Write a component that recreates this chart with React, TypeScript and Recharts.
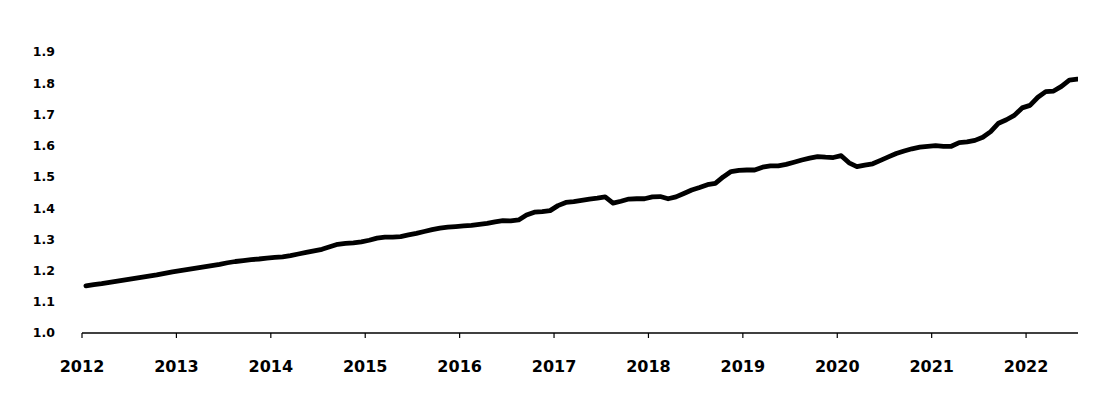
import { LineChart, Line, XAxis, YAxis } from 'recharts'

// monthly values (Jan 2012 .. Jul 2022)
const v2012 = [1.151, 1.155, 1.158, 1.162, 1.166, 1.17, 1.174, 1.178, 1.182, 1.186, 1.191, 1.196]
const v2013 = [1.2, 1.204, 1.208, 1.212, 1.216, 1.22, 1.225, 1.229, 1.232, 1.235, 1.237, 1.24]
const v2014 = [1.242, 1.244, 1.248, 1.253, 1.258, 1.263, 1.268, 1.276, 1.284, 1.287, 1.289, 1.292]
const v2015 = [1.297, 1.304, 1.307, 1.307, 1.309, 1.314, 1.319, 1.325, 1.331, 1.336, 1.339, 1.341]
const v2016 = [1.343, 1.345, 1.348, 1.351, 1.356, 1.36, 1.359, 1.362, 1.378, 1.387, 1.389, 1.392]
const v2017 = [1.408, 1.418, 1.421, 1.425, 1.429, 1.432, 1.436, 1.416, 1.422, 1.429, 1.43, 1.43]
const v2018 = [1.436, 1.437, 1.43, 1.436, 1.447, 1.458, 1.466, 1.475, 1.479, 1.5, 1.517, 1.521]
const v2019 = [1.522, 1.522, 1.531, 1.535, 1.535, 1.54, 1.547, 1.554, 1.56, 1.565, 1.563, 1.562]
const v2020 = [1.568, 1.545, 1.533, 1.538, 1.542, 1.553, 1.564, 1.575, 1.583, 1.59, 1.595, 1.598]
const v2021 = [1.6, 1.598, 1.598, 1.61, 1.612, 1.617, 1.627, 1.645, 1.672, 1.683, 1.697, 1.721]
const v2022 = [1.729, 1.755, 1.773, 1.775, 1.79, 1.81, 1.813]

const years = [2012, 2013, 2014, 2015, 2016, 2017, 2018, 2019, 2020, 2021, 2022]
const yTicks = [1.0, 1.1, 1.2, 1.3, 1.4, 1.5, 1.6, 1.7, 1.8, 1.9]

const byYear = [v2012, v2013, v2014, v2015, v2016, v2017, v2018, v2019, v2020, v2021, v2022]

// one point per month, placed mid-month
const data = byYear.flatMap((vals, yi) =>
  vals.map((v, m) => ({ t: years[yi] + (m + 0.5) / 12, value: v }))
)

const font = '"DejaVu Sans", Verdana, sans-serif'

export default function App() {
  return (
    <LineChart
      width={1090}
      height={395}
      data={data}
      margin={{ top: 44, right: 20, bottom: 30, left: 14 }}
    >
      <XAxis
        dataKey="t"
        type="number"
        domain={[2012, 2022.55]}
        ticks={years}
        allowDataOverflow
        tickSize={5}
        tickMargin={23}
        height={40}
        axisLine={{ stroke: '#000', strokeWidth: 1.5 }}
        tickLine={{ stroke: '#000', strokeWidth: 1.2 }}
        tick={{ fill: '#000', fontSize: 16, fontWeight: 700, fontFamily: font }}
      />
      <YAxis
        type="number"
        domain={[1.0, 1.9]}
        ticks={yTicks}
        width={60}
        axisLine={false}
        tickLine={false}
        tickMargin={21}
        tickFormatter={(v: number) => v.toFixed(1)}
        tick={{ fill: '#000', fontSize: 12.5, fontWeight: 700, fontFamily: font }}
      />
      <Line
        type="linear"
        dataKey="value"
        stroke="#000"
        strokeWidth={4.8}
        strokeLinejoin="round"
        strokeLinecap="round"
        dot={false}
        isAnimationActive={false}
      />
    </LineChart>
  )
}
